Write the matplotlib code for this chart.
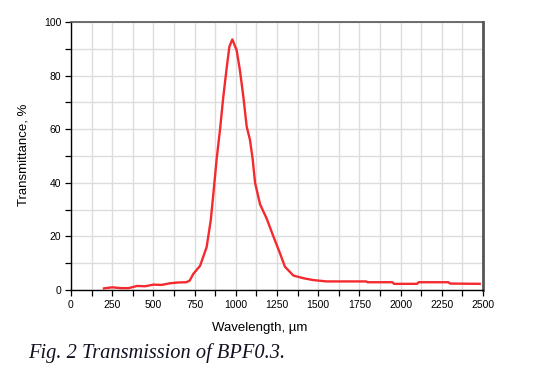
import matplotlib
matplotlib.use("Agg")
import matplotlib.pyplot as plt
from matplotlib.ticker import MultipleLocator

wavelength = [200, 250, 300, 350, 400, 450, 500, 550, 600, 650, 700, 720, 742, 783, 823, 848, 864,
              884, 904, 924, 945, 961, 979, 1005, 1025, 1046, 1066, 1086, 1102, 1117, 1147, 1187,
              1228, 1268, 1298, 1349, 1410, 1470, 1551, 1790, 1800, 1950, 1960, 2100, 2110, 2290,
              2300, 2480]
transmittance = [0.6, 1.0, 0.7, 0.7, 1.5, 1.4, 2.0, 1.9, 2.5, 2.8, 2.9, 3.5, 6, 9, 16, 26, 36,
                 49, 59.7, 72, 83, 90.8, 93.5, 89.5, 82, 72, 61, 56, 49, 40, 32, 26.7,
                 20, 13.7, 8.7, 5.4, 4.4, 3.7, 3.2, 3.2, 2.9, 2.9, 2.3, 2.3, 2.9, 2.9,
                 2.4, 2.3]
x_ticks = [0, 250, 500, 750, 1000, 1250, 1500, 1750, 2000, 2250, 2500]
y_ticks = [0, 20, 40, 60, 80, 100]

fig = plt.figure(figsize=(5.46, 3.81), dpi=100)
ax = fig.add_axes([71/546, 1-290/381, (483-71)/546, (290-22)/381])
ax.plot(wavelength, transmittance, color="#f42a2e", lw=1.7, zorder=3)
ax.set_xlim(0, 2500)
ax.set_ylim(0, 100)
ax.set_xticks(x_ticks)
ax.set_yticks(y_ticks)
ax.xaxis.set_minor_locator(MultipleLocator(125))
ax.yaxis.set_minor_locator(MultipleLocator(10))
ax.grid(True, which="both", color="#dcdcdc", lw=1.0, zorder=0)
ax.set_axisbelow(True)
ax.tick_params(which="both", direction="out", length=4, width=0.9, color="black",
               labelsize=7.5, pad=3)
for lab in ax.get_xticklabels() + ax.get_yticklabels():
    lab.set_family("Liberation Sans")
for s in ["left", "bottom"]:
    ax.spines[s].set_color("black")
    ax.spines[s].set_linewidth(1.0)
ax.spines["top"].set_color("#555555")
ax.spines["top"].set_linewidth(1.2)
ax.spines["right"].set_color("#555555")
ax.spines["right"].set_linewidth(2.0)

fig.text(260/546, 1-328/381, "Wavelength, µm", ha="center", va="center",
         fontsize=9.5, family="Liberation Sans")
fig.text(24/546, 1-155/381, "Transmittance, %", ha="center", va="center",
         rotation=90, fontsize=9.5, family="Liberation Sans")
fig.text(28/546, 1-353/381, "Fig. 2 Transmission of BPF0.3.", ha="left", va="center",
         fontsize=14.7, family="Liberation Serif", style="italic", color="#111122")

fig.savefig("out.png", dpi=100)
